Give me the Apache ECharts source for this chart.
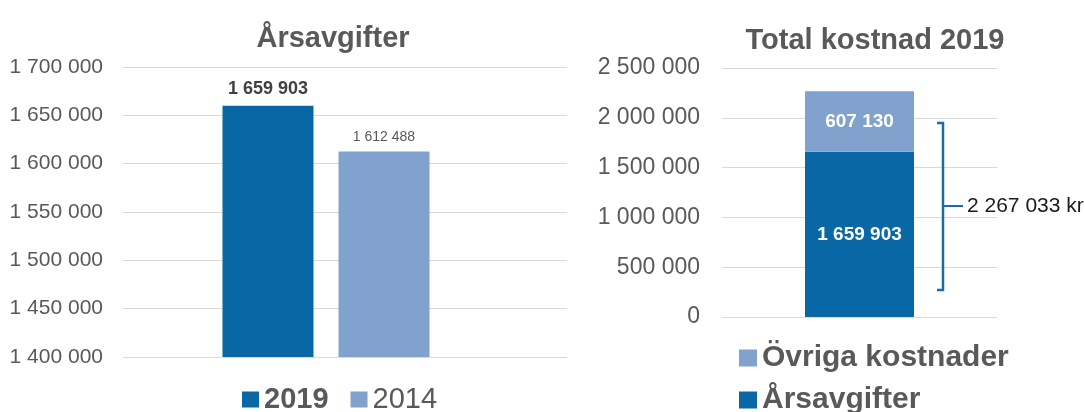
<!DOCTYPE html>
<html>
<head>
<meta charset="utf-8">
<script src="https://cdn.jsdelivr.net/npm/echarts@6/dist/echarts.min.js"></script>
<style>
html,body{margin:0;padding:0;background:#fff;}
#c{width:1085px;height:412px;}
</style>
</head>
<body>
<div id="c"></div>
<script>
// ---- data ----
const leftTitle = 'Årsavgifter';
const rightTitle = 'Total kostnad 2019';
const leftSeriesNames = ['2019', '2014'];
const leftValues = [1659903, 1612488];
const rightCategories = ['2019'];
const feeValues = [1659903];      // Årsavgifter
const otherValues = [607130];     // Övriga kostnader
const rightSeriesNames = ['Årsavgifter', 'Övriga kostnader'];
const leftAxis = {min: 1400000, max: 1700000, interval: 50000};
const rightAxis = {min: 0, max: 2500000, interval: 500000};

const FONT = '"Liberation Sans", Arial, sans-serif';
const DARK = '#0867a4';
const LIGHT = '#80a2cc';
const GREY = '#595959';
const fmt = v => String(v).replace(/\B(?=(\d{3})+(?!\d))/g, ' ');

const chart = echarts.init(document.getElementById('c'), null, {renderer: 'canvas'});

const rightLegendStyle = {
  left: 734, orient: 'horizontal',
  itemWidth: 18, itemHeight: 17,
  icon: 'rect',
  textStyle: {fontFamily: FONT, fontSize: 30, fontWeight: 'bold', color: GREY}
};

const option = {
  animation: false,
  backgroundColor: '#fff',
  textStyle: {fontFamily: FONT},
  title: [
    {text: leftTitle, left: 328, top: 19, textAlign: 'center',
     textStyle: {fontFamily: FONT, fontSize: 29, fontWeight: 'bold', color: GREY}},
    {text: rightTitle, left: 870, top: 21, textAlign: 'center',
     textStyle: {fontFamily: FONT, fontSize: 29, fontWeight: 'bold', color: GREY}}
  ],
  legend: [
    {
      data: [
        {name: leftSeriesNames[0], textStyle: {fontWeight: 'bold'}},
        {name: leftSeriesNames[1], textStyle: {fontWeight: 'normal'}}
      ],
      left: 237, top: 380, orient: 'horizontal',
      itemWidth: 17, itemHeight: 16, itemGap: 22,
      icon: 'rect',
      textStyle: {fontFamily: FONT, fontSize: 29, color: GREY}
    },
    Object.assign({data: [rightSeriesNames[1]], top: 338}, rightLegendStyle),
    Object.assign({data: [rightSeriesNames[0]], top: 380}, rightLegendStyle)
  ],
  grid: [
    {left: 123, right: 1085 - 567, top: 67, height: 290, containLabel: false},
    {left: 123, right: 1085 - 529, top: 67, height: 290, containLabel: false},
    {left: 722, right: 1085 - 997, top: 68, height: 249, containLabel: false}
  ],
  xAxis: [
    {gridIndex: 0, type: 'category', data: [''], show: false},
    {gridIndex: 1, type: 'category', data: [''], show: false},
    {gridIndex: 2, type: 'category', data: rightCategories, show: false}
  ],
  yAxis: [
    {gridIndex: 0, type: 'value', min: leftAxis.min, max: leftAxis.max, interval: leftAxis.interval,
     axisLine: {show: false}, axisTick: {show: false},
     axisLabel: {formatter: fmt, fontFamily: FONT, fontSize: 21, color: GREY, margin: 20},
     splitLine: {lineStyle: {color: '#d9d9d9', width: 1}}},
    {gridIndex: 1, type: 'value', min: leftAxis.min, max: leftAxis.max, interval: leftAxis.interval,
     show: false, splitLine: {show: false}},
    {gridIndex: 2, type: 'value', min: rightAxis.min, max: rightAxis.max, interval: rightAxis.interval,
     axisLine: {show: false}, axisTick: {show: false},
     axisLabel: {formatter: fmt, fontFamily: FONT, fontSize: 23, color: GREY, margin: 22},
     splitLine: {lineStyle: {color: '#d9d9d9', width: 1}}}
  ],
  series: [
    {name: leftSeriesNames[0], type: 'bar', xAxisIndex: 1, yAxisIndex: 1,
     data: [leftValues[0]], barWidth: 91, barGap: '27.5%',
     itemStyle: {color: DARK},
     label: {show: true, position: 'top', distance: 8, formatter: p => fmt(p.value),
             fontFamily: FONT, fontSize: 18, fontWeight: 'bold', color: '#404040'}},
    {name: leftSeriesNames[1], type: 'bar', xAxisIndex: 1, yAxisIndex: 1,
     data: [leftValues[1]], barWidth: 91, barGap: '27.5%',
     itemStyle: {color: LIGHT},
     label: {show: true, position: 'top', distance: 7, formatter: p => fmt(p.value),
             fontFamily: FONT, fontSize: 14, fontWeight: 'normal', color: GREY}},
    {name: rightSeriesNames[0], type: 'bar', xAxisIndex: 2, yAxisIndex: 2, stack: 'tot',
     data: feeValues, barWidth: 109,
     itemStyle: {color: DARK},
     label: {show: true, position: 'inside', formatter: p => fmt(p.value),
             fontFamily: FONT, fontSize: 19, fontWeight: 'bold', color: '#ffffff'}},
    {name: rightSeriesNames[1], type: 'bar', xAxisIndex: 2, yAxisIndex: 2, stack: 'tot',
     data: otherValues, barWidth: 109,
     itemStyle: {color: LIGHT},
     label: {show: true, position: 'inside', formatter: p => fmt(p.value),
             fontFamily: FONT, fontSize: 19, fontWeight: 'bold', color: '#ffffff'}}
  ]
};
chart.setOption(option);

// bracket annotation with total
const total = feeValues[0] + otherValues[0];
const BR = '#1c6ca6';
const bx = 943, by1 = 123, by2 = 290, bm = 206;
chart.setOption({
  graphic: [
    {type: 'polyline', shape: {points: [[bx - 6, by1], [bx, by1], [bx, by2], [bx - 6, by2]]},
     style: {stroke: BR, lineWidth: 2.5, fill: null}},
    {type: 'line', shape: {x1: bx, y1: bm, x2: bx + 20, y2: bm},
     style: {stroke: BR, lineWidth: 2}},
    {type: 'text', x: 967, y: bm,
     style: {text: fmt(total) + ' kr', font: '21px ' + FONT, fill: '#1a1a1a',
             textVerticalAlign: 'middle', verticalAlign: 'middle'}}
  ]
});
</script>
</body>
</html>
